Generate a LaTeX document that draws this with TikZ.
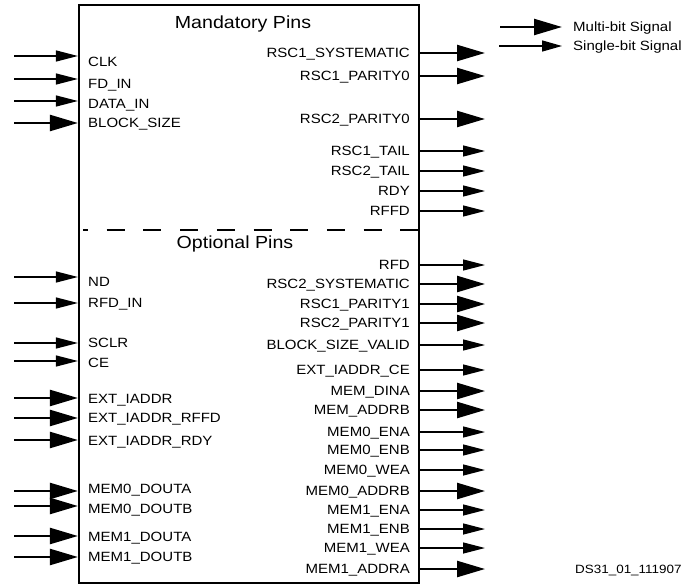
\documentclass[tikz,border=0pt]{standalone}
\usepackage{fontspec}
\setmainfont{Liberation Sans}[FakeStretch=1.12]
\usetikzlibrary{arrows.meta}

\begin{document}
\begin{tikzpicture}[x=1pt,y=-1pt,
    pin/.style={inner sep=0pt,font=\fontsize{13.4}{15}\selectfont,text height=9.6pt,text depth=0pt},
    title/.style={inner sep=0pt,font=\fontsize{17.5}{20}\selectfont,text height=12.6pt,text depth=0pt},
    mbit/.style={line width=2.4pt,-{Triangle[length=28pt,width=16pt]}},
    sbit/.style={line width=1.3pt,-{Triangle[length=22pt,width=11pt]}}]
    \useasboundingbox (0,0) rectangle (692,586);

    \node[draw,line width=2.2pt,minimum width=340pt,minimum height=578pt,inner sep=0pt] (blk) at (249,294) {};
    \node[title] (mand) at (243,22) {Mandatory Pins};
    \node[title] (opt) at (235,242) {Optional Pins};

    \coordinate (divl) at (83,230);
    \coordinate (divr) at (418,230);
    \draw[line width=1.6pt,dash pattern=on 18pt off 18.7pt,dash phase=13pt] (divl) -- (divr);

    \foreach \nm/\lbl/\ya/\yt/\kind in {clk/CLK/56/62/sbit,fdin/FD\_IN/79/84/sbit,
        datain/DATA\_IN/101/104/sbit,blocksize/BLOCK\_SIZE/123/123/mbit,
        nd/ND/277/282/sbit,rfdin/RFD\_IN/303/303/sbit,sclr/SCLR/343/343/sbit,ce/CE/361/363/sbit,
        extiaddr/EXT\_IADDR/398/399/mbit,extrffd/EXT\_IADDR\_RFFD/418/418/mbit,
        extrdy/EXT\_IADDR\_RDY/440/441/mbit,mem0douta/MEM0\_DOUTA/491/489/mbit,
        mem0doutb/MEM0\_DOUTB/506/509/mbit,mem1douta/MEM1\_DOUTA/536/537/mbit,
        mem1doutb/MEM1\_DOUTB/557/557/mbit}
    {
      \coordinate (\nm-in) at (14,\ya);
      \draw[\kind] (\nm-in) -- (\nm-in -| blk.west);
      \node[pin,anchor=west] (\nm) at (88,\yt) {\lbl};
    }

    \foreach \nm/\lbl/\y/\kind in {rsc1sys/RSC1\_SYSTEMATIC/53/mbit,rsc1par0/RSC1\_PARITY0/76/mbit,
        rsc2par0/RSC2\_PARITY0/119/mbit,rsc1tail/RSC1\_TAIL/151/sbit,rsc2tail/RSC2\_TAIL/171/sbit,
        rdy/RDY/191/sbit,rffd/RFFD/211/sbit,rfd/RFD/265/sbit,rsc2sys/RSC2\_SYSTEMATIC/284/mbit,
        rsc1par1/RSC1\_PARITY1/304/mbit,rsc2par1/RSC2\_PARITY1/323/mbit,
        bsvalid/BLOCK\_SIZE\_VALID/345/sbit,extce/EXT\_IADDR\_CE/370/sbit,
        memdina/MEM\_DINA/391/mbit,memaddrb/MEM\_ADDRB/410/mbit,mem0ena/MEM0\_ENA/432/sbit,
        mem0enb/MEM0\_ENB/450/sbit,mem0wea/MEM0\_WEA/470/sbit,mem0addrb/MEM0\_ADDRB/491/mbit,
        mem1ena/MEM1\_ENA/510/sbit,mem1enb/MEM1\_ENB/529/sbit,mem1wea/MEM1\_WEA/548/sbit,
        mem1addra/MEM1\_ADDRA/569/mbit}
    {
      \node[pin,anchor=east] (\nm) at (410,\y) {\lbl};
      \coordinate (\nm-out) at (485,\y);
      \draw[\kind] (\nm-out -| blk.east) -- (\nm-out);
    }

    \coordinate (mb-s) at (500,27);
    \coordinate (mb-e) at (562,27);
    \draw[mbit] (mb-s) -- (mb-e);
    \node[pin,anchor=west] (mb-txt) at (573,27) {Multi-bit Signal};
    \coordinate (sb-s) at (499,46);
    \coordinate (sb-e) at (562,46);
    \draw[sbit,-{Triangle[length=20pt,width=11pt]}] (sb-s) -- (sb-e);
    \node[pin,anchor=west] (sb-txt) at (573,46) {Single-bit Signal};

    \node[pin,anchor=west,font=\fontsize{12}{14}\selectfont] (fig-id) at (575,569) {DS31\_01\_111907};
  \end{tikzpicture}
\end{document}
